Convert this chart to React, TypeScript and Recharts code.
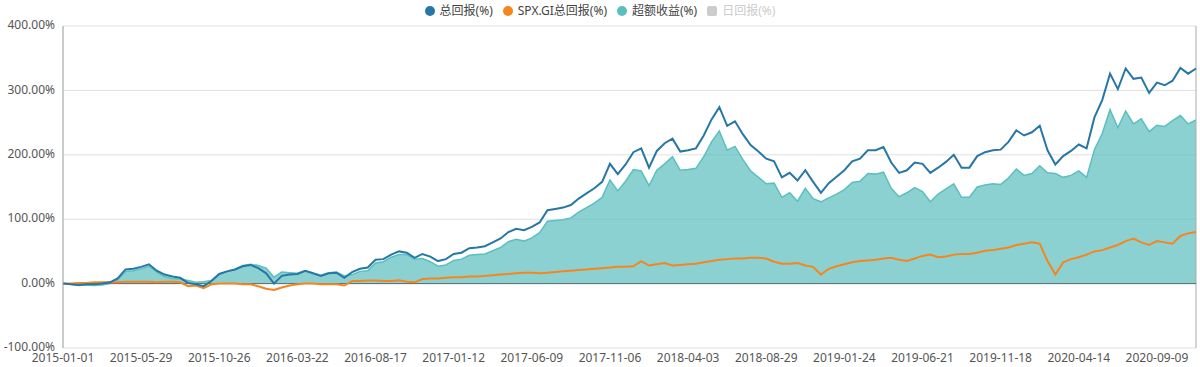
import React from "react";
import {
  ComposedChart,
  Line,
  Area,
  XAxis,
  YAxis,
  CartesianGrid,
  ReferenceLine,
} from "recharts";

// x labels, one every 10 samples
const tickLabels = [
  "2015-01-01", "2015-05-29", "2015-10-26", "2016-03-22", "2016-08-17",
  "2017-01-12", "2017-06-09", "2017-11-06", "2018-04-03", "2018-08-29",
  "2019-01-24", "2019-06-21", "2019-11-18", "2020-04-14", "2020-09-09",
];

const totalReturn = [
  0, -1, -2, -1, -1, 0, 2, 8, 22, 23,
  26, 30, 20, 14, 11, 9, 1, -1, -4, 4,
  15, 19, 22, 27, 29, 24, 16, 0, 12, 14,
  15, 20, 16, 12, 16, 17, 9, 18, 23, 25,
  37, 38, 45, 50, 48, 40, 46, 42, 35, 38,
  46, 48, 55, 56, 58, 64, 70, 80, 85, 83,
  88, 95, 114, 116, 118, 122, 132, 140, 148, 158,
  186, 170, 185, 204, 210, 180, 206, 218, 225, 205,
  207, 210, 230, 255, 274, 245, 252, 232, 215, 205,
  194, 190, 165, 172, 160, 176, 158, 141, 156, 166,
  176, 190, 194, 207, 207, 212, 188, 172, 176, 188,
  186, 172, 180, 189, 200, 180, 180, 198, 204, 207,
  208, 220, 238, 230, 235, 245, 207, 185, 198, 206,
  216, 210, 258, 285, 326, 302, 334, 318, 320, 296,
  312, 308, 315, 335, 326, 334,
];

const spxReturn = [
  0, 0, 1, 1, 2, 2, 2, 2, 3, 3,
  3, 3, 2, 3, 3, 2, -4, -3, -7, -1,
  0, 0, 0, -1, -1, -4, -8, -10, -6, -3,
  -1, 0, 0, -1, -1, -1, -3, 4, 4, 5,
  5, 4, 4, 5, 3, 2, 7, 8, 8, 9,
  10, 10, 11, 11, 12, 13, 14, 15, 16, 17,
  17, 16, 17, 18, 19, 20, 21, 22, 23, 24,
  25, 26, 26, 27, 35, 28, 30, 32, 28, 29,
  30, 31, 33, 35, 37, 38, 39, 39, 40, 40,
  39, 34, 31, 31, 32, 28, 26, 14, 23, 27,
  30, 33, 35, 36, 37, 39, 40, 37, 35, 39,
  43, 45, 41, 42, 45, 46, 46, 48, 51, 52,
  54, 56, 60, 62, 64, 62, 35, 14, 33, 38,
  41, 45, 50, 52, 56, 60, 66, 70, 64, 60,
  66, 64, 62, 74, 78, 80,
];

const excessReturn = [
  0, -1, -3, -2, -3, -2, 0, 6, 19, 20,
  23, 27, 18, 11, 8, 7, 5, 2, 3, 5,
  15, 19, 22, 28, 30, 28, 24, 10, 18, 17,
  16, 20, 16, 13, 17, 18, 12, 14, 19, 20,
  32, 34, 41, 45, 45, 38, 39, 34, 27, 29,
  36, 38, 44, 45, 46, 51, 56, 65, 69, 66,
  71, 79, 97, 98, 99, 102, 111, 118, 125, 134,
  161, 144, 159, 177, 175, 152, 176, 186, 197, 176,
  177, 179, 197, 220, 237, 207, 213, 193, 175, 165,
  155, 156, 134, 141, 128, 148, 132, 127, 133, 139,
  146, 157, 159, 171, 170, 173, 148, 135, 141, 149,
  143, 127, 139, 147, 155, 134, 134, 150, 153, 155,
  154, 164, 178, 168, 171, 183, 172, 171, 165, 168,
  175, 165, 208, 233, 270, 242, 268, 248, 256, 236,
  246, 244, 253, 261, 248, 254,
];

const yTicks = [-100, 0, 100, 200, 300, 400];

const data = totalReturn.map((v, i) => ({
  i,
  total: v,
  spx: spxReturn[i],
  excess: excessReturn[i],
}));

const xTicks = tickLabels.map((_, k) => k * 10);

const legendItems = [
  { name: "总回报(%)", color: "#2677a6", shape: "circle", off: false },
  { name: "SPX.GI总回报(%)", color: "#f5861f", shape: "circle", off: false },
  { name: "超额收益(%)", color: "#5bbfbf", shape: "circle", off: false },
  { name: "日回报(%)", color: "#cccccc", shape: "square", off: true },
];

const font = '"Noto Sans", "Noto Sans CJK SC", sans-serif';

export default function App() {
  return (
    <div style={{ position: "absolute", left: 0, top: 0, width: 1200, height: 367, fontFamily: font }}>
      <div
        style={{
          position: "absolute",
          top: 3,
          left: 0,
          width: 1200,
          display: "flex",
          justifyContent: "center",
          gap: 10,
          fontSize: 12,
          lineHeight: "16px",
        }}
      >
        {legendItems.map((it) => (
          <div key={it.name} style={{ display: "flex", alignItems: "center", color: it.off ? "#ccc" : "#444" }}>
            <span
              style={{
                display: "inline-block",
                width: 10,
                height: 10,
                borderRadius: it.shape === "circle" ? 5 : 2,
                background: it.color,
                marginRight: 5,
              }}
            />
            {it.name}
          </div>
        ))}
      </div>
      <ComposedChart
        width={1200}
        height={367}
        data={data}
        margin={{ top: 26, right: 4, bottom: 0, left: 0 }}
      >
        <CartesianGrid vertical={false} stroke="#e0e0e0" />
        <XAxis
          type="number"
          dataKey="i"
          domain={[0, 145]}
          ticks={xTicks}
          tickFormatter={(v) => tickLabels[Math.round(v / 10)]}
          axisLine={false}
          tickLine={false}
          tickSize={3}
          height={19}
          interval={0}
          tick={{ fontSize: 12, fill: "#555", fontFamily: font }}
        />
        <YAxis
          domain={[-100, 400]}
          ticks={yTicks}
          width={63}
          tickFormatter={(v) => v.toFixed(2) + "%"}
          axisLine={{ stroke: "#999" }}
          tickLine={false}
          tick={{ fontSize: 12, fill: "#555", fontFamily: font, dy: -1 }}
        />
        <ReferenceLine x={145} stroke="#aaa" />
        <Area
          type="linear"
          dataKey="excess"
          baseValue={0}
          stroke="#5bbfbf"
          strokeWidth={1.5}
          fill="#5bbdbd"
          fillOpacity={0.7}
          isAnimationActive={false}
          dot={false}
        />
        <ReferenceLine y={0} stroke="#5d6b70" />
        <Line
          type="linear"
          dataKey="spx"
          stroke="#f5861f"
          strokeWidth={2}
          dot={false}
          isAnimationActive={false}
        />
        <Line
          type="linear"
          dataKey="total"
          stroke="#2677a6"
          strokeWidth={2}
          dot={false}
          isAnimationActive={false}
        />
      </ComposedChart>
    </div>
  );
}
